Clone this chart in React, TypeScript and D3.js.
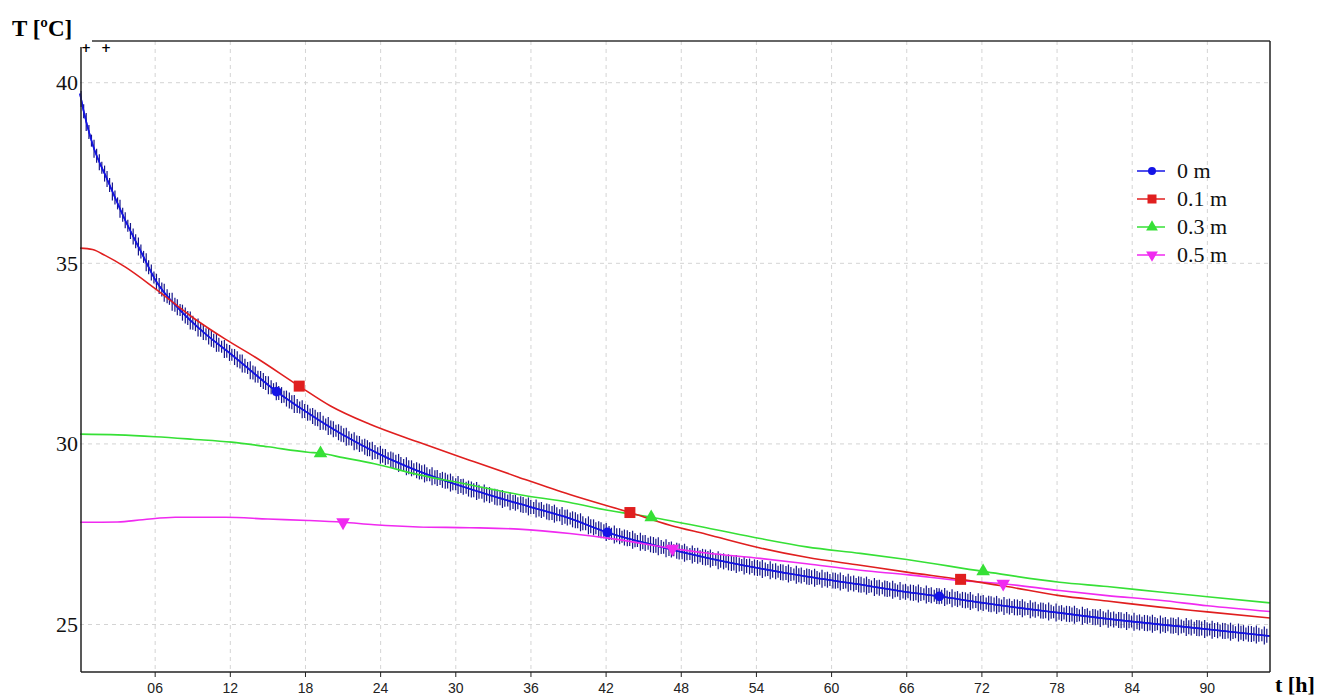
import React, { useRef, useEffect } from 'react';
import * as d3 from 'd3';

// series: time [h] and temperature [ºC]
const t0 = [0, 0.3, 1, 2.2, 3.6, 4.9, 6, 8, 10, 12, 15.7, 18, 21, 24, 27, 30, 33, 36, 39, 42.1, 46, 50, 54, 58, 62, 66, 68.6, 72, 78, 84, 90, 95];
const T0 = [39.7, 39.2, 38.3, 37.3, 36.2, 35.3, 34.55, 33.7, 33.05, 32.5, 31.45, 30.9, 30.25, 29.7, 29.25, 28.88, 28.55, 28.25, 27.95, 27.55, 27.18, 26.85, 26.57, 26.33, 26.12, 25.9, 25.78, 25.6, 25.33, 25.08, 24.87, 24.68];

const t1 = [0, 1, 2, 3.6, 6, 9, 11.6, 14, 17.5, 20, 23.1, 27, 31.1, 35, 39.1, 43.9, 47.1, 50, 54.3, 58, 62.3, 66, 70.3, 74, 78.2, 82, 86.2, 90, 95];
const T1 = [35.42, 35.38, 35.22, 34.9, 34.3, 33.5, 32.9, 32.4, 31.6, 31.05, 30.55, 30.05, 29.55, 29.08, 28.6, 28.1, 27.75, 27.5, 27.12, 26.86, 26.64, 26.45, 26.25, 26.05, 25.8, 25.65, 25.48, 25.35, 25.18];

const t3 = [0, 3, 6, 9, 12.1, 15, 18.2, 19.2, 21, 23.5, 27, 31.1, 35, 39.1, 42, 45.6, 50, 54.3, 58, 62.3, 66, 72.1, 78.2, 82, 86.2, 90, 95];
const T3 = [30.27, 30.25, 30.2, 30.13, 30.05, 29.92, 29.77, 29.74, 29.62, 29.45, 29.15, 28.87, 28.6, 28.38, 28.17, 27.97, 27.68, 27.38, 27.15, 26.97, 26.8, 26.47, 26.17, 26.05, 25.9, 25.77, 25.6];

const t5 = [0, 3, 5, 7.6, 11.6, 15, 18.2, 21, 23.5, 27, 31.1, 35, 39.1, 43, 47.3, 50, 54.3, 58, 62.3, 66, 70.2, 73.7, 78.2, 82, 86.2, 90, 95];
const T5 = [27.83, 27.84, 27.9, 27.97, 27.97, 27.92, 27.88, 27.83, 27.76, 27.7, 27.68, 27.64, 27.52, 27.35, 27.1, 26.98, 26.83, 26.68, 26.5, 26.38, 26.22, 26.13, 25.94, 25.8, 25.67, 25.52, 25.36];

// times where the symbols sit
const marks0 = [15.7, 42.1, 68.6];
const marks1 = [17.5, 43.9, 70.3];
const marks3 = [19.2, 45.6, 72.1];
const marks5 = [21.0, 47.3, 73.7];

const labels = ['0 m', '0.1 m', '0.3 m', '0.5 m'];
const colors = ['#1414e6', '#e01f1f', '#36e036', '#f02af0'];
const xTicks = [6, 12, 18, 24, 30, 36, 42, 48, 54, 60, 66, 72, 78, 84, 90];
const yTicks = [25, 30, 35, 40];

const interp = (ts: number[], Ts: number[], t: number) => {
    const i = Math.max(1, Math.min(ts.length - 1, d3.bisectLeft(ts, t)));
    const a = (t - ts[i - 1]) / (ts[i] - ts[i - 1]);
    return Ts[i - 1] + a * (Ts[i] - Ts[i - 1]);
};

export default function App() {
    const ref = useRef<SVGSVGElement>(null);
    const width = 1317, height = 698;

    useEffect(() => {
        const svg = d3.select(ref.current);
        svg.selectAll('*').remove();

        const left = 80, right = 1270, top = 41, bottom = 672;
        const x = d3.scaleLinear().domain([0, 95]).range([left, right]);
        const y = d3.scaleLinear().domain([23.685, 41.155]).range([bottom, top]);

        svg.append('rect').attr('width', width).attr('height', height).attr('fill', '#fff');

        // dashed grid
        svg.append('g').selectAll('line').data(xTicks).join('line')
            .attr('x1', d => x(d)).attr('x2', d => x(d))
            .attr('y1', top).attr('y2', bottom)
            .attr('stroke', '#d4d4d4').attr('stroke-dasharray', '4,4');
        svg.append('g').selectAll('line').data(yTicks).join('line')
            .attr('x1', left).attr('x2', right)
            .attr('y1', d => y(d)).attr('y2', d => y(d))
            .attr('stroke', '#d4d4d4').attr('stroke-dasharray', '4,4');

        const line = d3.line<[number, number]>()
            .x(d => x(d[0])).y(d => y(d[1]))
            .curve(d3.curveMonotoneX);

        const series = [[t0, T0], [t1, T1], [t3, T3], [t5, T5]];
        const marks = [marks0, marks1, marks3, marks5];

        // 0 m line with its dense vertical ticks
        const bluePath = svg.append('path')
            .datum(d3.zip(t0, T0) as [number, number][])
            .attr('d', line).attr('fill', 'none')
            .attr('stroke', colors[0]).attr('stroke-width', 1.5);
        const node = bluePath.node() as SVGPathElement;
        const total = node.getTotalLength();
        const pts: DOMPoint[] = [];
        for (let l = 0; l <= total; l += 0.5) pts.push(node.getPointAtLength(l));
        const lens = [8, 7, 9, 7, 6, 9, 7, 8, 6, 8];
        const tickData: { px: number, py: number, h: number }[] = [];
        let k = 0, n = 0;
        for (let px = left + 1; px < right - 1; px += 2.6) {
            while (k < pts.length - 1 && pts[k].x < px) k++;
            tickData.push({ px: pts[k].x, py: pts[k].y, h: lens[n++ % lens.length] });
        }
        svg.append('g').selectAll('line').data(tickData).join('line')
            .attr('x1', d => d.px).attr('x2', d => d.px)
            .attr('y1', d => d.py - d.h).attr('y2', d => d.py + d.h)
            .attr('stroke', '#16168a').attr('stroke-width', 1.2);
        svg.append('path')
            .datum(d3.zip(t0, T0) as [number, number][])
            .attr('d', line).attr('fill', 'none')
            .attr('stroke', colors[0]).attr('stroke-width', 1.6);

        // the other three lines, drawn over the blue band
        [3, 2, 1].forEach(i => {
            svg.append('path')
                .datum(d3.zip(series[i][0], series[i][1]) as [number, number][])
                .attr('d', line).attr('fill', 'none')
                .attr('stroke', colors[i]).attr('stroke-width', 1.6);
        });

        const symbols = [
            d3.symbol().type(d3.symbolCircle).size(75),
            d3.symbol().type(d3.symbolSquare).size(121),
            d3.symbol().type(d3.symbolTriangle).size(80),
            d3.symbol().type(d3.symbolTriangle).size(80),
        ];
        const smallSymbols = [
            d3.symbol().type(d3.symbolCircle).size(50),
            d3.symbol().type(d3.symbolSquare).size(81),
            d3.symbol().type(d3.symbolTriangle).size(60),
            d3.symbol().type(d3.symbolTriangle).size(60),
        ];

        marks.forEach((m, i) => {
            svg.append('g').selectAll('path').data(m).join('path')
                .attr('d', symbols[i]())
                .attr('transform', d => `translate(${x(d)},${y(interp(series[i][0], series[i][1], d))})${i === 3 ? ' rotate(180)' : ''}`)
                .attr('fill', colors[i]);
        });

        // frame
        svg.append('line').attr('x1', left + 1).attr('x2', left + 1).attr('y1', top + 6).attr('y2', bottom)
            .attr('stroke', '#222').attr('stroke-width', 1.5);
        svg.append('line').attr('x1', left + 1).attr('x2', right).attr('y1', bottom).attr('y2', bottom)
            .attr('stroke', '#222').attr('stroke-width', 1.5);
        svg.append('line').attr('x1', left + 12).attr('x2', right).attr('y1', top).attr('y2', top)
            .attr('stroke', '#333').attr('stroke-width', 1.5);
        svg.append('line').attr('x1', right).attr('x2', right).attr('y1', top).attr('y2', bottom)
            .attr('stroke', '#222').attr('stroke-width', 1.5);

        // small crosses in the corner
        svg.append('g').selectAll('text').data([86, 106]).join('text')
            .attr('x', d => d).attr('y', 52)
            .attr('text-anchor', 'middle')
            .style('font-family', 'DejaVu Sans, sans-serif')
            .style('font-size', '12px').style('font-weight', 'bold')
            .attr('fill', '#000')
            .text('+');

        // x ticks and labels
        svg.append('g').selectAll('line').data(xTicks).join('line')
            .attr('x1', d => x(d)).attr('x2', d => x(d))
            .attr('y1', bottom).attr('y2', bottom + 5)
            .attr('stroke', '#222');
        svg.append('g').selectAll('text').data(xTicks).join('text')
            .attr('x', d => x(d)).attr('y', 693)
            .attr('text-anchor', 'middle')
            .style('font-family', 'Liberation Sans, Arial, sans-serif')
            .style('font-size', '14px')
            .attr('fill', '#222')
            .text(d => d3.format('02d')(d));

        // y labels
        svg.append('g').selectAll('text').data(yTicks).join('text')
            .attr('x', 78).attr('y', d => y(d))
            .attr('dy', '0.34em')
            .attr('text-anchor', 'end')
            .style('font-family', 'Liberation Serif, Times New Roman, serif')
            .style('font-size', '22px')
            .attr('fill', '#111')
            .text(d => d);

        // axis titles
        svg.append('text').attr('x', 12).attr('y', 36)
            .style('font-family', 'Liberation Serif, Times New Roman, serif')
            .style('font-size', '23px').style('font-weight', 'bold')
            .text('T [ºC]');
        svg.append('text').attr('x', 1275).attr('y', 692)
            .style('font-family', 'Liberation Serif, Times New Roman, serif')
            .style('font-size', '22px').style('font-weight', 'bold')
            .text('t [h]');

        // legend
        const lg = svg.append('g').attr('transform', 'translate(1137,171)');
        labels.forEach((lab, i) => {
            const row = lg.append('g').attr('transform', `translate(0,${i * 28})`);
            row.append('line').attr('x1', 0).attr('x2', 28).attr('y1', 0).attr('y2', 0)
                .attr('stroke', colors[i]).attr('stroke-width', 1.5);
            row.append('path').attr('d', smallSymbols[i]())
                .attr('transform', `translate(15,0)${i === 3 ? ' rotate(180)' : ''}`)
                .attr('fill', colors[i]);
            row.append('text').attr('x', 40).attr('y', 0).attr('dy', '0.34em')
                .style('font-family', 'Liberation Serif, Times New Roman, serif')
                .style('font-size', '22px')
                .attr('fill', '#111')
                .text(lab);
        });
    }, []);

    return (
        <svg width={width} height={height} ref={ref}
            style={{ position: 'absolute', left: 0, top: 0 }} />
    );
}
